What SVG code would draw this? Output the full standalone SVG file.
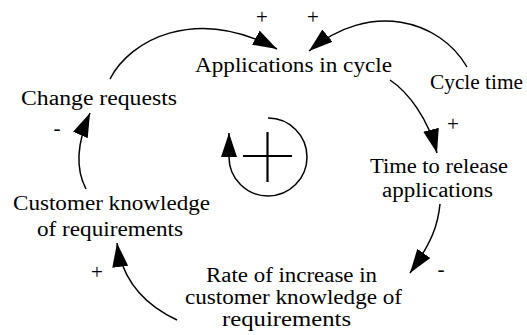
<svg xmlns="http://www.w3.org/2000/svg" width="527" height="335" viewBox="0 0 527 335">
  <style>
    .lbl { font-size: 20px; fill: #000; }
    .pol { font-size: 21px; fill: #000; text-anchor: middle; }
    .link { fill: none; stroke: #000; stroke-width: 1.5; marker-end: url(#head); }
  </style>
  <defs>
    <!-- filled triangular arrowhead shared by every causal link -->
    <marker id="head" markerUnits="userSpaceOnUse" markerWidth="25" markerHeight="17" refX="24" refY="8" orient="auto" viewBox="0 0 25 17">
      <path d="M0,0 L24,8 L0,16 z" fill="#000"/>
    </marker>
  </defs>
  <rect width="527" height="335" fill="#fff"/>

  <g font-family="Liberation Serif, DejaVu Serif, serif">
    <!-- variables -->
    <g id="applications-in-cycle">
      <text class="lbl" x="195" y="72" textLength="197" lengthAdjust="spacingAndGlyphs">Applications in cycle</text>
    </g>
    <g id="change-requests">
      <text class="lbl" x="21" y="105" textLength="156" lengthAdjust="spacingAndGlyphs">Change requests</text>
    </g>
    <g id="cycle-time">
      <text class="lbl" x="430" y="89" textLength="93" lengthAdjust="spacingAndGlyphs">Cycle time</text>
    </g>
    <g id="time-to-release">
      <text class="lbl" x="370" y="173" textLength="138" lengthAdjust="spacingAndGlyphs">Time to release</text>
      <text class="lbl" x="382" y="197" textLength="111" lengthAdjust="spacingAndGlyphs">applications</text>
    </g>
    <g id="customer-knowledge">
      <text class="lbl" x="13" y="210" textLength="197" lengthAdjust="spacingAndGlyphs">Customer knowledge</text>
      <text class="lbl" x="37" y="236" textLength="146" lengthAdjust="spacingAndGlyphs">of requirements</text>
    </g>
    <g id="rate-of-increase">
      <text class="lbl" x="206" y="282" textLength="171" lengthAdjust="spacingAndGlyphs">Rate of increase in</text>
      <text class="lbl" x="185" y="304" textLength="217" lengthAdjust="spacingAndGlyphs">customer knowledge of</text>
      <text class="lbl" x="222" y="326" textLength="129" lengthAdjust="spacingAndGlyphs">requirements</text>
    </g>

    <!-- causal links with polarity -->
    <g id="connectors">
      <path class="link" d="M110,79 C130,40 195,5 277,49"/>
      <path class="link" d="M467,67 C440,20 370,0 309,51"/>
      <path class="link" d="M390,80 C408,92 428,118 437,153"/>
      <path class="link" d="M440,204 C438,225 432,242 410,273"/>
      <path class="link" d="M177,320 C145,305 122,280 117,243"/>
      <path class="link" d="M86,189 C76,170 76,145 90,113"/>
      <text class="pol" x="262" y="24">+</text>
      <text class="pol" x="313" y="24">+</text>
      <text class="pol" x="453" y="131">+</text>
      <text class="pol" x="441" y="276">-</text>
      <text class="pol" x="97" y="279">+</text>
      <text class="pol" x="57" y="135">-</text>
    </g>
  </g>

  <!-- reinforcing loop marker -->
  <g id="loop">
    <path class="link" d="M268,118 A39,39 0 1 1 229,157 L229,133"/>
    <path d="M243,156 H292 M267.5,132 V182" fill="none" stroke="#000" stroke-width="2.2"/>
  </g>
</svg>
